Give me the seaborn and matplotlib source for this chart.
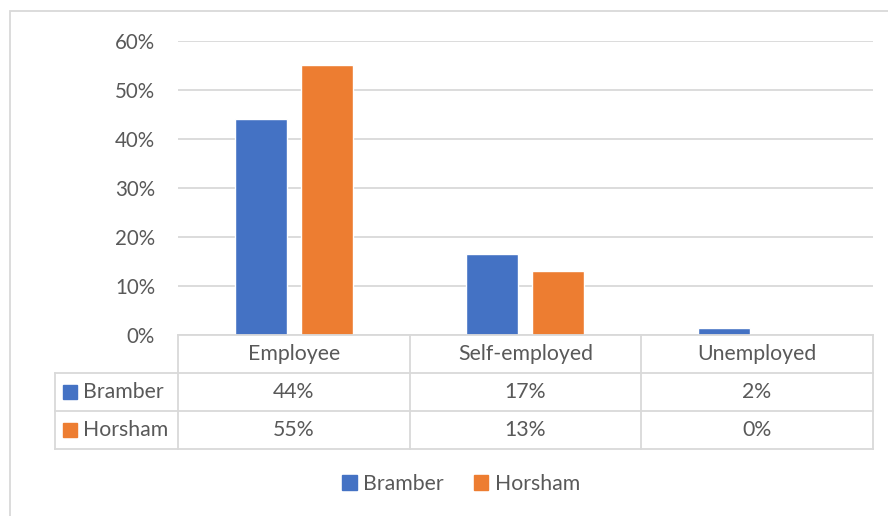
import numpy as np
import pandas as pd
import matplotlib
matplotlib.use("Agg")
import matplotlib.pyplot as plt
import seaborn as sns
from matplotlib.patches import Rectangle

# --- data ---
categories = ["Employee", "Self-employed", "Unemployed"]
areas = ["Bramber", "Horsham"]
bramber = [0.44, 0.166, 0.015]
horsham = [0.55, 0.13, 0.0]
yticks = [0.0, 0.1, 0.2, 0.3, 0.4, 0.5, 0.6]
colors = ["#4472C4", "#ED7D31"]

df = pd.DataFrame({
    "Category": categories * 2,
    "Area": [areas[0]] * 3 + [areas[1]] * 3,
    "Share": bramber + horsham,
})

sns.set_style("white")
plt.rcParams["font.family"] = ["Lato", "DejaVu Sans"]
TXT = "#595959"
GRID = "#d9d9d9"
FS = 15.3

W, H = 888, 516
fig = plt.figure(figsize=(W / 100, H / 100), dpi=100)

# outer chart border (only top and left visible in the crop)
fig.patches.append(Rectangle((10 / W, -0.1), 1.2, 1 - 11 / H + 0.1, transform=fig.transFigure,
                             fill=False, edgecolor=GRID, linewidth=1.3))

x0, x1 = 178, 872.7
ytop, ybot = 40.7, 335
ax = fig.add_axes([x0 / W, 1 - ybot / H, (x1 - x0) / W, (ybot - ytop) / H])

sns.barplot(data=df, x="Category", y="Share", hue="Area", palette=colors,
            width=0.57, gap=0.21, ax=ax, legend=False, saturation=1)
ax.set_xlim(-0.5, 2.5)
ax.set_ylim(0, 0.6)
ax.set_yticks(yticks)
ax.set_yticklabels([f"{int(round(t * 100))}%" for t in yticks], color=TXT, fontsize=FS - 0.5)
ax.tick_params(axis="y", length=0, pad=16.5)
ax.set_xticks([])
ax.set_xlabel("")
ax.set_ylabel("")
ax.grid(axis="y", color=GRID, linewidth=1.3)
ax.set_axisbelow(True)
for s in ax.spines.values():
    s.set_visible(False)

# --- data table under the plot (x in category units, y in axes units) ---
fmt = lambda v: f"{int(v * 100 + 0.5)}%"
cell_text = [[fmt(v) for v in bramber], [fmt(v) for v in horsham]]
tr = ax.get_xaxis_transform()
ph = ybot - ytop
row_edges = [(ybot - y) / ph for y in (335, 372.7, 411, 449.3)]
col_w = (x1 - x0) / 3
lab_left = -0.5 - 123.3 / col_w
n = len(categories)
line_kw = dict(color=GRID, linewidth=1.3, transform=tr, clip_on=False, solid_capstyle="projecting")

ax.plot([-0.5, n - 0.5], [row_edges[0]] * 2, **line_kw)
for ye in row_edges[1:]:
    ax.plot([lab_left, n - 0.5], [ye, ye], **line_kw)
ax.plot([lab_left, lab_left], [row_edges[1], row_edges[3]], **line_kw)
for i in range(n + 1):
    ax.plot([i - 0.5, i - 0.5], [row_edges[0], row_edges[3]], **line_kw)

mid = lambda k: (row_edges[k] + row_edges[k + 1]) / 2
for i, cat in enumerate(categories):
    ax.text(i, mid(0), cat, transform=tr, ha="center", va="center", color=TXT, fontsize=FS)
    for r, row in enumerate(cell_text):
        ax.text(i, mid(r + 1), row[i], transform=tr, ha="center", va="center",
                color=TXT, fontsize=FS)
for r, (name, col) in enumerate(zip(areas, colors)):
    ax.text(lab_left + 28 / col_w, mid(r + 1), name, transform=tr, ha="left", va="center",
            color=TXT, fontsize=FS)
    ax.add_patch(Rectangle((lab_left + 8 / col_w, mid(r + 1) - 7 / ph), 14 / col_w, 14 / ph,
                           transform=tr, color=col, clip_on=False))

handles = [Rectangle((0, 0), 1, 1, color=c) for c in colors]
fig.legend(handles, areas, loc="center", bbox_to_anchor=(461 / W, 1 - 484 / H), ncol=2,
           frameon=False, fontsize=FS, labelcolor=TXT, handlelength=0.7, handleheight=0.7,
           handletextpad=0.3, columnspacing=1.4)

fig.savefig("out.png", dpi=100)
